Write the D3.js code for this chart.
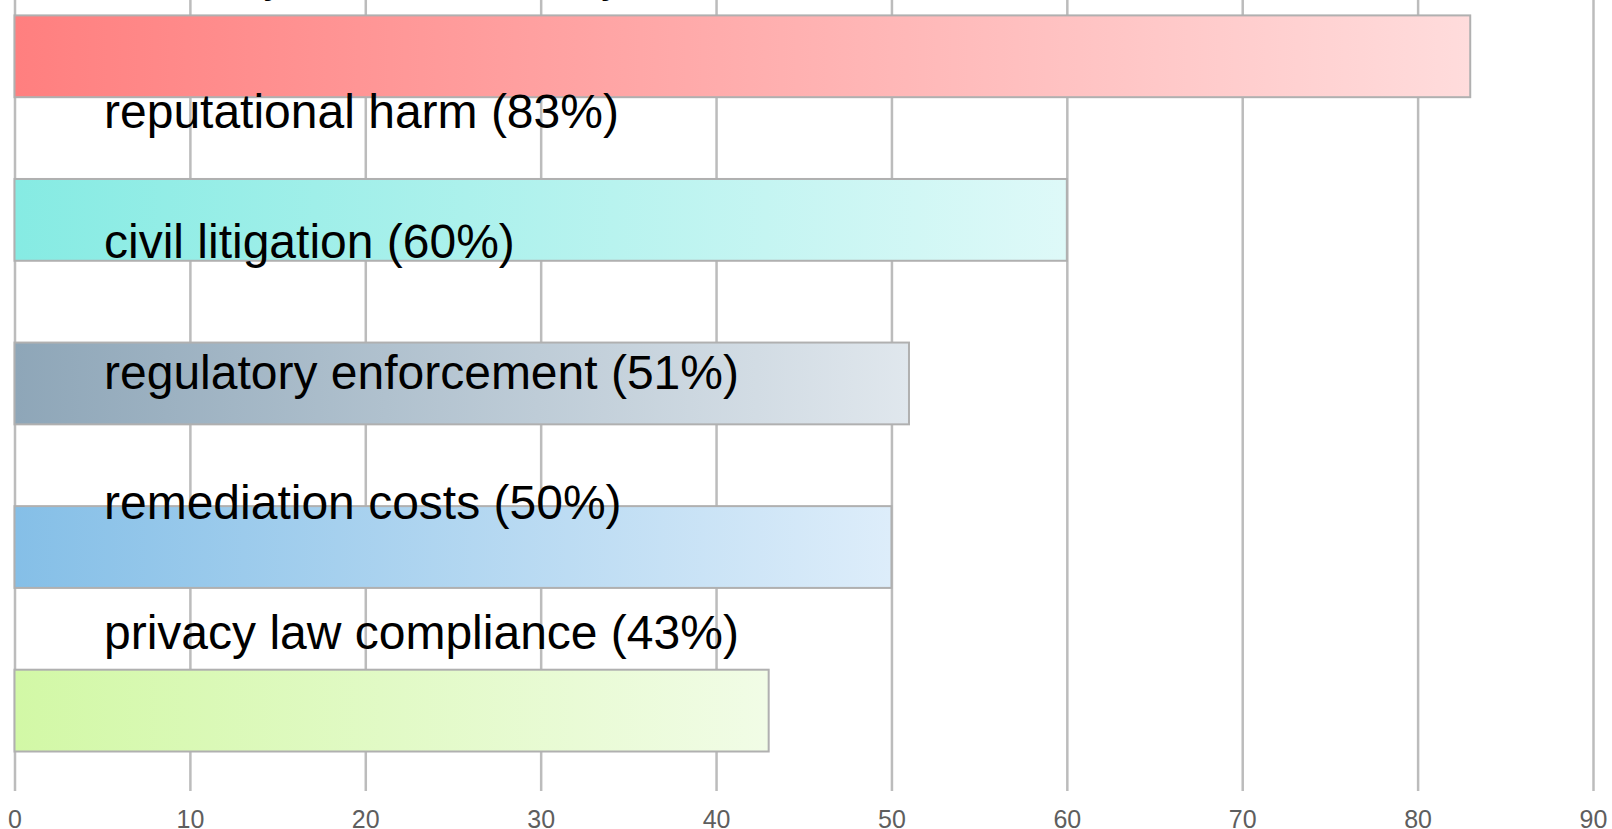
<!DOCTYPE html>
<html>
<head>
<meta charset="utf-8">
<script src="https://cdn.jsdelivr.net/npm/d3@7"></script>
<style>
    body { margin: 0; background: #fff; }
    svg { display: block; }
</style>
</head>
<body>
<div id="barchart"></div>
<script>
// chart data
const categories = ["reputational harm", "civil litigation", "regulatory enforcement", "remediation costs", "privacy law compliance"];
const values = [83, 60, 51, 50, 43];
const xTicks = [0, 10, 20, 30, 40, 50, 60, 70, 80, 90];
// gradient stops (left, right) for each bar
const barColors = [
    ["#ff7f7f", "#ffdcdc"],
    ["#86ebe3", "#def9f8"],
    ["#8ea6b8", "#e0e7ed"],
    ["#85bfe7", "#ddedfa"],
    ["#d2f8a6", "#f1fce6"]
];
// text that runs off the top and bottom edges of the picture
const topText = "Primary concerns of any firm";
const bottomText = "slower sales";

const barchart_viz = () => {
    var w = 1612;
    var h = 829;

    var svg = d3.select("#barchart")
        .append("svg")
        .attr("width", w)
        .attr("height", h)
        .attr("viewBox", `0 0 ${w} ${h}`);

    var x = d3.scaleLinear()
        .domain([0, 90])
        .range([14.5, 1593]);

    var y = d3.scaleBand()
        .domain(categories)
        .range([15.4, 751.5])
        .paddingInner(0.5)
        .paddingOuter(0);

    // labels sit on their own evenly spaced rows
    var labelY = d3.scaleLinear()
        .domain([0, categories.length - 1])
        .range([128, 649]);

    var defs = svg.append("defs");
    categories.forEach((c, i) => {
        var g = defs.append("linearGradient")
            .attr("id", "grad" + i)
            .attr("x1", "0%").attr("x2", "100%")
            .attr("y1", "0%").attr("y2", "0%");
        g.append("stop").attr("offset", "0%").attr("stop-color", barColors[i][0]);
        g.append("stop").attr("offset", "100%").attr("stop-color", barColors[i][1]);
    });

    // vertical grid lines + ticks
    var xAxis = d3.axisBottom(x)
        .tickValues(xTicks)
        .tickSize(791)
        .tickPadding(19)
        .tickFormat(d3.format("d"));

    var axis = svg.append("g")
        .call(xAxis);

    axis.select(".domain").remove();
    axis.selectAll("line")
        .attr("stroke", "#bcbcbc")
        .attr("stroke-width", 2.5);
    axis.selectAll("text")
        .attr("fill", "#5e5e5e")
        .style("font-family", "'Liberation Sans', Arial, sans-serif")
        .style("font-size", "25px");

    // bars
    svg.selectAll("rect.bar")
        .data(categories)
        .join("rect")
        .attr("class", "bar")
        .attr("x", x(0))
        .attr("y", d => y(d))
        .attr("width", (d, i) => x(values[i]) - x(0))
        .attr("height", y.bandwidth())
        .attr("fill", (d, i) => `url(#grad${i})`)
        .attr("stroke", "#b0b0b0")
        .attr("stroke-width", 2);

    // labels
    var font = "'Liberation Sans', Arial, sans-serif";
    svg.selectAll("text.label")
        .data(categories)
        .join("text")
        .attr("class", "label")
        .attr("x", 104)
        .attr("y", (d, i) => labelY(i))
        .style("font-family", font)
        .style("font-size", "48px")
        .attr("fill", "#000")
        .text((d, i) => `${d} (${values[i]}%)`);

    svg.append("text")
        .attr("x", 128)
        .attr("y", -9)
        .style("font-family", font)
        .style("font-size", "46px")
        .text(topText);

    svg.append("text")
        .attr("x", 104)
        .attr("y", 865)
        .style("font-family", font)
        .style("font-size", "48px")
        .text(bottomText);
}

barchart_viz();
</script>
</body>
</html>
